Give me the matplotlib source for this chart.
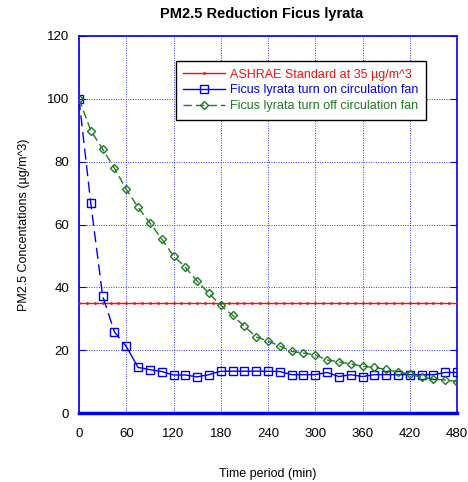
import matplotlib.pyplot as plt
import numpy as np

plt.rcParams['font.family'] = ['Liberation Sans', 'DejaVu Sans']

# --- data ---
time_min = [0, 15, 30, 45, 60, 75, 90, 105, 120, 135, 150, 165, 180, 195, 210, 225,
            240, 255, 270, 285, 300, 315, 330, 345, 360, 375, 390, 405, 420, 435, 450, 465, 480]
fan_on = [100, 66.7, 37.3, 25.8, 21.2, 14.5, 13.8, 13.2, 12.1, 12.1, 11.5, 12.2, 13.3, 13.3, 13.3, 13.3,
          13.3, 13.2, 12.2, 12.2, 12.2, 12.9, 11.6, 12.2, 11.6, 12.2, 12.2, 12.2, 12.2, 12.2, 12.2, 12.9, 12.9]
fan_off = [100, 89.9, 84.0, 77.9, 71.2, 65.5, 60.5, 55.4, 50.0, 46.4, 42.0, 38.1, 34.3, 31.1, 27.6, 24.2,
           22.9, 21.3, 19.6, 19.1, 18.5, 16.9, 16.3, 15.6, 14.9, 14.5, 13.9, 13.0, 12.4, 11.3, 10.8, 10.5, 10.0]
std_time = list(range(0, 481, 10))
std_value = [35] * len(std_time)

x_ticks = [0, 60, 120, 180, 240, 300, 360, 420, 480]
y_ticks = [0, 20, 40, 60, 80, 100, 120]

BLUE = '#0000ee'
GREEN = '#1e7a1e'
RED = '#ee1111'

fig = plt.figure(figsize=(4.68, 4.82), dpi=100)
ax = fig.add_axes([79 / 468, 1 - 413 / 482, 378 / 468, 377 / 482])

ax.plot(std_time, std_value, color=RED, lw=1.0, marker='.', ms=2,
        label='ASHRAE Standard at 35 \u00b5g/m^3', zorder=3)

# fan on: dashed while dropping, solid after 60 min
ax.plot(time_min[:5], fan_on[:5], color=BLUE, lw=1.0, ls=(0, (8, 4)), zorder=4)
ax.plot(time_min[4:], fan_on[4:], color=BLUE, lw=1.0, zorder=4)
ax.plot(time_min, fan_on, color=BLUE, lw=1.0, marker='s', ms=6, mfc='none', mec=BLUE,
        ls='none', zorder=5)
ax.plot([], [], color=BLUE, lw=1.0, marker='s', ms=6, mfc='none',
        label='Ficus lyrata turn on circulation fan')

ax.plot(time_min, fan_off, color=GREEN, lw=1.0, ls=(0, (6, 3)), marker='D', ms=4.2,
        mfc='none', mec=GREEN, label='Ficus lyrata turn off circulation fan', zorder=5)

ax.set_xlim(0, 480)
ax.set_ylim(0, 120)
ax.set_xticks(x_ticks)
ax.set_yticks(y_ticks)
ax.grid(True, color='#3333ff', ls=(0, (1, 1.5)), lw=0.7)
ax.tick_params(axis='y', direction='in', color=BLUE, length=5, right=True, labelsize=9.5, pad=7)
ax.tick_params(axis='x', length=0, labelsize=9.5, pad=11)
for s in ax.spines.values():
    s.set_color(BLUE)
    s.set_linewidth(1.2)
ax.spines['bottom'].set_linewidth(2.5)

fig.text(261.5 / 468, 1 - 14 / 482, 'PM2.5 Reduction Ficus lyrata', fontsize=10.5,
         fontweight='bold', ha='center', va='center')
ax.set_xlabel('Time period (min)', fontsize=9, labelpad=20)
ax.set_ylabel('PM2.5 Concentations (\u00b5g/m^3)', fontsize=9, labelpad=12)

leg = ax.legend(loc='upper left', bbox_to_anchor=(0.24, 0.95), fontsize=9,
                frameon=True, fancybox=False, edgecolor='black', framealpha=1,
                handlelength=3.3, borderpad=0.6, labelspacing=0.3, handletextpad=0.4)
leg.get_frame().set_linewidth(1.0)
for txt, c in zip(leg.get_texts(), [RED, BLUE, GREEN]):
    txt.set_color(c)

fig.savefig('out.png', dpi=100)
